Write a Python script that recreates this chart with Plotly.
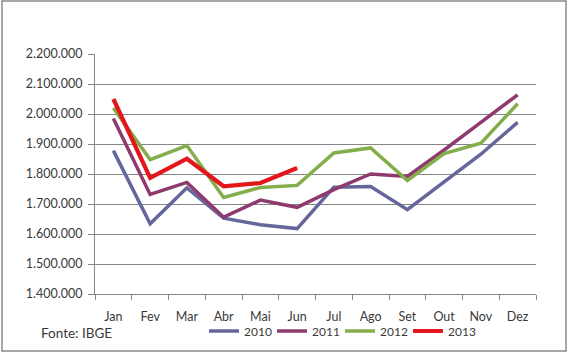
import plotly.graph_objects as go

months = ["Jan", "Fev", "Mar", "Abr", "Mai", "Jun", "Jul", "Ago", "Set", "Out", "Nov", "Dez"]
v2010 = [1878000, 1634000, 1754000, 1653000, 1631000, 1618000, 1756000, 1758000, 1681000, 1772000, 1866000, 1972000]
v2011 = [1985000, 1732000, 1772000, 1656000, 1713000, 1689000, 1748000, 1800000, 1792000, 1880000, 1972000, 2064000]
v2012 = [2020000, 1848000, 1895000, 1722000, 1755000, 1762000, 1870000, 1887000, 1778000, 1868000, 1903000, 2034000]
v2013 = [2050000, 1787000, 1851000, 1759000, 1770000, 1820000]
series_names = ["2010", "2011", "2012", "2013"]
colors = ["#65679C", "#8E3A6E", "#84AD4C", "#E3171B"]
widths = [3.5, 3.5, 3.5, 4.2]

fig = go.Figure()
for name, vals, c, w in zip(series_names, [v2010, v2011, v2012, v2013], colors, widths):
    fig.add_trace(go.Scatter(x=months[:len(vals)], y=vals, name=name, mode="lines",
                             line=dict(color=c, width=w)))

L, R, T, B = 95, 34, 54, 59
W, H = 570, 353
pw, ph = W - L - R, H - T - B

fig.update_layout(
    width=W, height=H,
    margin=dict(l=L, r=R, t=T, b=B, autoexpand=False),
    paper_bgcolor="white", plot_bgcolor="white",
    separators=",.",
    font=dict(family="Lato", size=12, color="#3a3a3a"),
    showlegend=True,
    legend=dict(orientation="h", x=(204 - L) / pw, xanchor="left",
                y=(294 - 331) / ph, yanchor="middle",
                font=dict(size=12, color="#3a3a3a"),
                itemwidth=30, tracegroupgap=0, bgcolor="rgba(0,0,0,0)",
                entrywidth=23, entrywidthmode="pixels"),
    xaxis=dict(type="category", categoryorder="array", categoryarray=months,
               range=[-0.5, 11.5], showgrid=False, showline=True,
               linecolor="#868686", linewidth=1, ticks="outside", tickson="boundaries",
               ticklen=5, tickcolor="#868686", ticklabelstandoff=11,
               tickfont=dict(size=12.5, color="#3a3a3a"), fixedrange=True),
    yaxis=dict(range=[1400000, 2200000], dtick=100000, tickformat=",d",
               showgrid=True, gridcolor="#868686", gridwidth=1,
               showline=True, linecolor="#868686", linewidth=1,
               ticks="outside", ticklen=6, tickcolor="#868686", ticklabelstandoff=3,
               tickfont=dict(size=12.5, color="#3a3a3a"), zeroline=False, fixedrange=True),
    shapes=[dict(type="rect", xref="paper", yref="paper",
                 x0=(2 - L) / pw, x1=(566 - L) / pw,
                 y0=(H - B - 351) / ph, y1=(H - B - 1) / ph,
                 line=dict(color="#8a8a8a", width=1.5))],
    annotations=[dict(text="Fonte: IBGE", xref="paper", yref="paper",
                      x=(39 - L) / pw, xanchor="left", y=(294 - 333) / ph, yanchor="middle",
                      showarrow=False, font=dict(size=13.5, color="#3a3a3a"))],
)

fig.write_html("out.html")
